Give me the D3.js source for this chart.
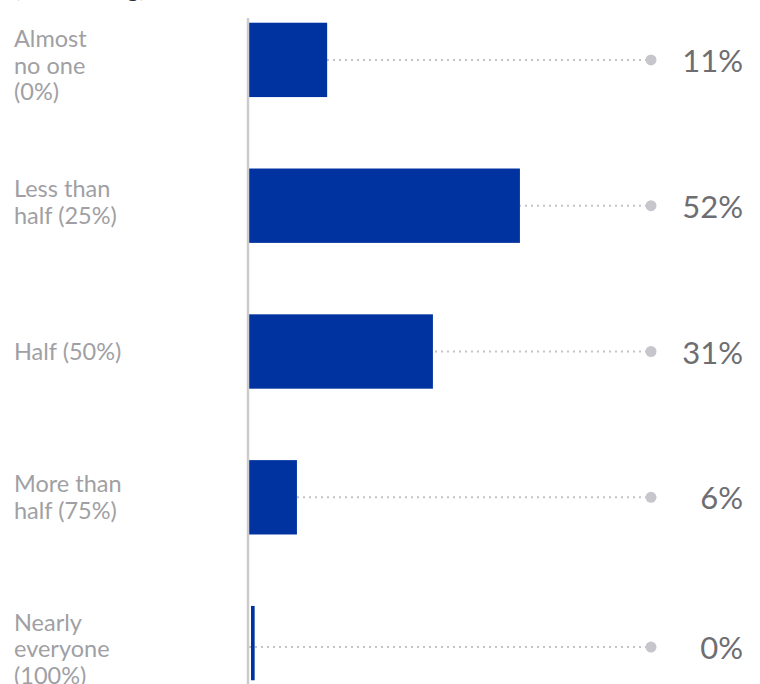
<!DOCTYPE html>
<html>
<head>
<meta charset="utf-8">
<script src="https://cdn.jsdelivr.net/npm/d3@7"></script>
<style>
  html, body { margin: 0; padding: 0; background: #fff; }
  svg { display: block; }
</style>
</head>
<body>
<svg id="chart" width="760" height="684"></svg>
<script>
// ---- data ----
const categories = [
  ["Almost", "no one", "(0%)"],
  ["Less than", "half (25%)"],
  ["Half (50%)"],
  ["More than", "half (75%)"],
  ["Nearly", "everyone", "(100%)"]
];
const valueLabels = ["11%", "52%", "31%", "6%", "0%"];
// bar lengths (percent units)
const barLengths = [15, 52, 35.3, 9.2, 0.7];
const subtitle = "(% selecting)";

// ---- layout ----
const W = 760, H = 684;
const axisX = 248;
const svg = d3.select("#chart");

const y = d3.scaleBand()
  .domain(d3.range(categories.length))
  .range([-13, 716])
  .paddingInner(0.49)
  .paddingOuter(0.245);

const x = d3.scaleLinear().domain([0, 100]).range([249, 770]);

const font = "Lato, 'Open Sans', sans-serif";

// cut-off subtitle at top
svg.append("text")
  .attr("x", 14).attr("y", -3)
  .attr("font-family", font).attr("font-size", 24)
  .attr("fill", "#333")
  .text(subtitle);

// dotted leader lines
const dotEnd = 651;
const cyOf = i => y(i) + y.bandwidth() / 2 + (i === 4 ? 4 : 0);
svg.selectAll("line.lead").data(barLengths).join("line")
  .attr("class", "lead")
  .attr("x1", x(0)).attr("x2", dotEnd)
  .attr("y1", (d, i) => cyOf(i))
  .attr("y2", (d, i) => cyOf(i))
  .attr("stroke", "#c4c4c8").attr("stroke-width", 2)
  .attr("stroke-dasharray", "2,4");

svg.selectAll("circle.dot").data(barLengths).join("circle")
  .attr("class", "dot")
  .attr("cx", dotEnd)
  .attr("cy", (d, i) => cyOf(i))
  .attr("r", 5.5)
  .attr("fill", "#c6c6cc");

// bars
svg.selectAll("rect.bar").data(barLengths).join("rect")
  .attr("class", "bar")
  .attr("x", (d, i) => i === 4 ? x(0) + 2 : x(0))
  .attr("y", (d, i) => y(i))
  .attr("width", d => x(d) - x(0))
  .attr("height", y.bandwidth())
  .attr("fill", "#0033a0");

// axis line
svg.append("line")
  .attr("x1", axisX).attr("x2", axisX)
  .attr("y1", 18).attr("y2", H)
  .attr("stroke", "#cccccc").attr("stroke-width", 2.5);

// category labels
const lineH = 26.5;
categories.forEach((lines, i) => {
  const cy = y(i) + y.bandwidth() / 2;
  const n = lines.length;
  const t = svg.append("text")
    .attr("font-family", font).attr("font-size", 23.5)
    .attr("fill", "#a0a0a4");
  lines.forEach((ln, j) => {
    t.append("tspan")
      .attr("x", 14)
      .attr("y", cy + 8 + (j - (n - 1) / 2) * lineH + (n === 3 ? 6 : 0) - (i === 1 ? 3 : 0))
      .text(ln);
  });
});

// value labels
svg.selectAll("text.val").data(valueLabels).join("text")
  .attr("class", "val")
  .attr("x", 743)
  .attr("y", (d, i) => cyOf(i) + 12)
  .attr("text-anchor", "end")
  .attr("font-family", font).attr("font-size", 31)
  .attr("fill", "#6e6e72")
  .text(d => d);
</script>
</body>
</html>
